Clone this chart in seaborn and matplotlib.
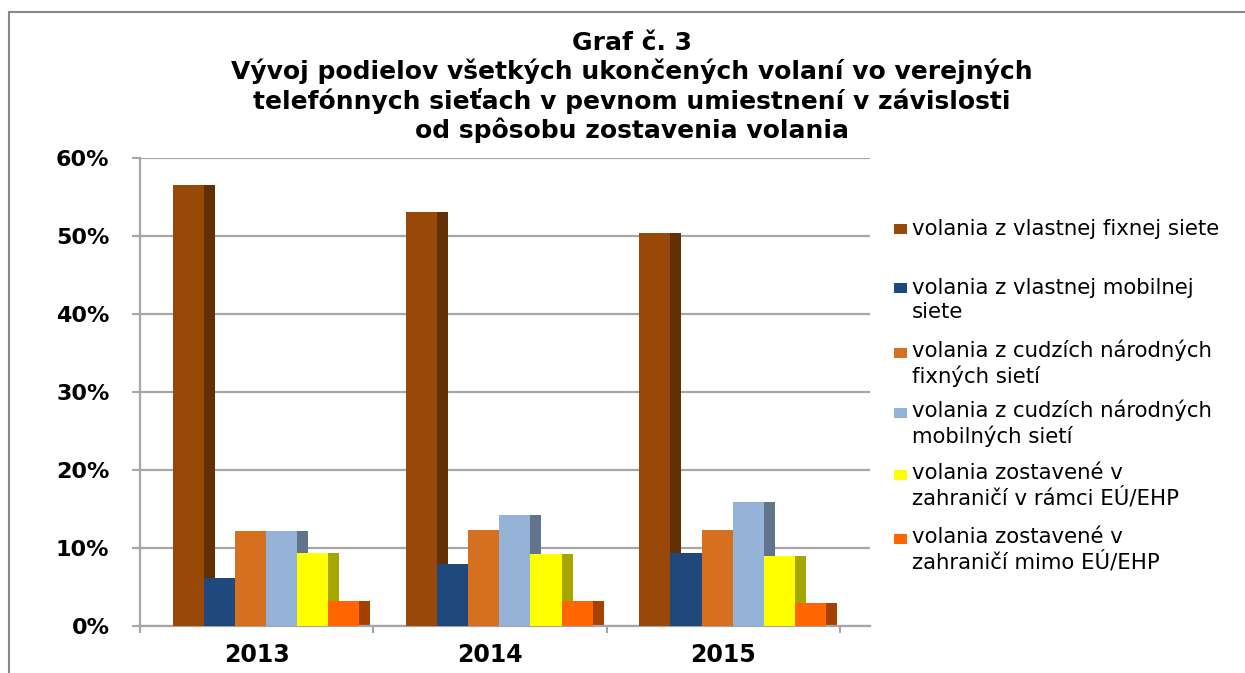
import matplotlib
matplotlib.use("Agg")
import numpy as np
import pandas as pd
import matplotlib.pyplot as plt
import seaborn as sns
from matplotlib.patches import Rectangle
from matplotlib.lines import Line2D
from matplotlib.colors import to_rgb

# data (podiel v %)
roky = ['2013', '2014', '2015']
serie = [
    'volania z vlastnej fixnej siete',
    'volania z vlastnej mobilnej\nsiete',
    'volania z cudzích národných\nfixných sietí',
    'volania z cudzích národných\nmobilných sietí',
    'volania zostavené v\nzahraničí v rámci EÚ/EHP',
    'volania zostavené v\nzahraničí mimo EÚ/EHP',
]
vlastna_fixna = [56.6, 53.1, 50.4]
vlastna_mobilna = [6.2, 7.9, 9.4]
cudzie_fixne = [12.2, 12.3, 12.3]
cudzie_mobilne = [12.2, 14.2, 15.9]
zahranicie_eu = [9.4, 9.2, 9.0]
zahranicie_mimo = [3.2, 3.2, 3.0]
farby = ['#984807', '#1f497d', '#d4701f', '#95b3d7', '#ffff00', '#ff6600']

hodnoty = vlastna_fixna + vlastna_mobilna + cudzie_fixne + cudzie_mobilne + zahranicie_eu + zahranicie_mimo
df = pd.DataFrame({
    'rok': roky * len(serie),
    'seria': np.repeat(serie, len(roky)),
    'podiel': hodnoty,
})

W, H = 1245, 673
fig = plt.figure(figsize=(W / 100, H / 100), dpi=100)
ax = fig.add_axes([140 / W, 1 - 626 / H, 730 / W, 468 / H])

sns.barplot(data=df, x='rok', y='podiel', hue='seria', hue_order=serie,
            palette=farby, saturation=1, width=0.8, legend=False,
            edgecolor='none', ax=ax, zorder=3)

# fake 3D: shift a bit to the right and add a darker side face
hlbka = 0.047
for p in list(ax.patches):
    p.set_x(p.get_x() + 0.04)
    tmava = tuple(c * 0.65 for c in to_rgb(p.get_facecolor()))
    ax.add_patch(Rectangle((p.get_x() + p.get_width(), 0), hlbka, p.get_height(),
                           facecolor=tmava, edgecolor='none', zorder=2))

seda = '#a6a6a6'
ax.set_xlim(-0.5, 2.5 + 30 / 233.3)
ax.set_ylim(0, 60)
ax.set_yticks(range(0, 61, 10))
ax.set_yticklabels([f'{v}%' for v in range(0, 61, 10)])
ax.set_xlabel('')
ax.set_ylabel('')
ax.yaxis.grid(True, color=seda, lw=1.6)
ax.set_axisbelow(True)
for s in ['top', 'right']:
    ax.spines[s].set_visible(False)
for s in ['left', 'bottom']:
    ax.spines[s].set_color(seda)
    ax.spines[s].set_linewidth(1.6)
ax.tick_params(axis='y', length=6, width=1.5, color=seda, pad=16, labelsize=16)
ax.tick_params(axis='x', which='major', length=0, pad=12, labelsize=17)
ax.set_xticks([-0.5, 0.5, 1.5, 2.5], minor=True)
ax.tick_params(axis='x', which='minor', length=5, width=1.5, color=seda)
for lbl in ax.get_xticklabels() + ax.get_yticklabels():
    lbl.set_fontweight('bold')

# title
fig.text(632 / W, 1 - 31 / H,
         'Graf č. 3\nVývoj podielov všetkých ukončených volaní vo verejných\n'
         'telefónnych sieťach v pevnom umiestnení v závislosti\nod spôsobu zostavenia volania',
         ha='center', va='top', fontsize=18, fontweight='bold', linespacing=1.18)

# legend drawn by hand so the marker sits on the first line
zakladne = [235, 294, 359, 419, 481, 545]
for nazov, farba, yb in zip(serie, farby, zakladne):
    fig.add_artist(Rectangle((894 / W, 1 - (yb - 1) / H), 13 / W, 10 / H,
                             transform=fig.transFigure, facecolor=farba, edgecolor='none'))
    posledny = yb + 24 * nazov.count('\n')
    fig.text(912 / W, 1 - posledny / H, nazov, ha='left', va='baseline',
             fontsize=15.3, linespacing=1.26)

# outer frame
fig.add_artist(Line2D([9 / W, 9 / W], [0, 1 - 12 / H], color='#888888', lw=1.5))
fig.add_artist(Line2D([9 / W, 1], [1 - 12 / H, 1 - 12 / H], color='#888888', lw=1.5))

fig.savefig('out.png', dpi=100)
